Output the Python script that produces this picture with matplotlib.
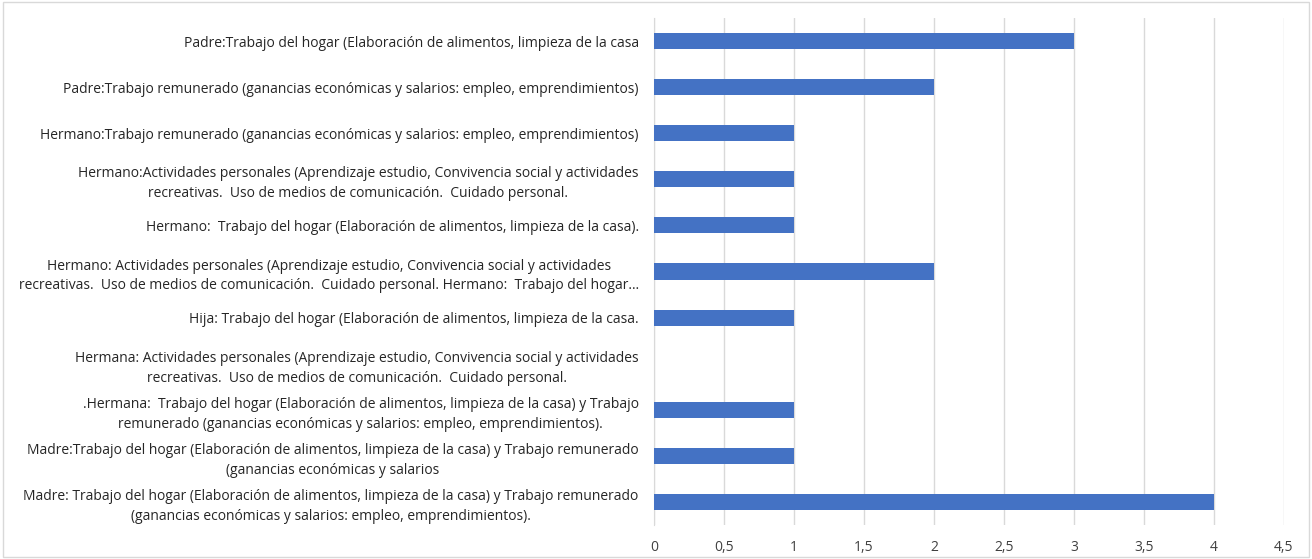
import matplotlib.pyplot as plt
from matplotlib.patches import Rectangle
from matplotlib.ticker import FuncFormatter

# categories from bottom to top
labels = [
    'Madre: Trabajo del hogar (Elaboración de alimentos, limpieza de la casa) y Trabajo remunerado\n(ganancias económicas y salarios: empleo, emprendimientos).',
    'Madre:Trabajo del hogar (Elaboración de alimentos, limpieza de la casa) y Trabajo remunerado\n(ganancias económicas y salarios',
    '.Hermana:  Trabajo del hogar (Elaboración de alimentos, limpieza de la casa) y Trabajo\nremunerado (ganancias económicas y salarios: empleo, emprendimientos).',
    'Hermana: Actividades personales (Aprendizaje estudio, Convivencia social y actividades\nrecreativas.  Uso de medios de comunicación.  Cuidado personal.',
    'Hija: Trabajo del hogar (Elaboración de alimentos, limpieza de la casa.',
    'Hermano: Actividades personales (Aprendizaje estudio, Convivencia social y actividades\nrecreativas.  Uso de medios de comunicación.  Cuidado personal. Hermano:  Trabajo del hogar…',
    'Hermano:  Trabajo del hogar (Elaboración de alimentos, limpieza de la casa).',
    'Hermano:Actividades personales (Aprendizaje estudio, Convivencia social y actividades\nrecreativas.  Uso de medios de comunicación.  Cuidado personal.',
    'Hermano:Trabajo remunerado (ganancias económicas y salarios: empleo, emprendimientos)',
    'Padre:Trabajo remunerado (ganancias económicas y salarios: empleo, emprendimientos)',
    'Padre:Trabajo del hogar (Elaboración de alimentos, limpieza de la casa',
]
values = [4, 1, 1, 0, 1, 2, 1, 1, 1, 2, 3]
xticks = [0, 0.5, 1, 1.5, 2, 2.5, 3, 3.5, 4, 4.5]

plt.rcParams['font.family'] = ['Open Sans', 'DejaVu Sans']

fig = plt.figure(figsize=(13.12, 5.59), dpi=100)
ax = fig.add_axes([654/1312, 1 - 525/559, 630/1312, 507/559])

ypos = range(len(labels))
ax.barh(ypos, values, height=0.35, color='#4472C4', zorder=3)
ax.set_ylim(-0.5, len(labels) - 0.5)
ax.set_xlim(0, 4.5)
ax.set_xticks(xticks)
ax.xaxis.set_major_formatter(FuncFormatter(lambda v, p: f'{v:g}'.replace('.', ',')))
ax.set_yticks(list(ypos))
ax.set_yticklabels(labels, multialignment='center', linespacing=1.45,
                   fontsize=10, color='#262626')
ax.tick_params(axis='x', labelsize=10, colors='#404040', length=0, pad=11)
ax.tick_params(axis='y', length=0, pad=11)
ax.grid(axis='x', color='#d9d9d9', linewidth=1, zorder=0)
for s in ['top', 'right', 'bottom']:
    ax.spines[s].set_visible(False)
ax.spines['left'].set_color('#d9d9d9')

fig.patches.append(Rectangle((0.002, 0.003), 0.996, 0.994, transform=fig.transFigure,
                             fill=False, edgecolor='#d9d9d9', linewidth=1))

fig.savefig('out.png', dpi=100)
